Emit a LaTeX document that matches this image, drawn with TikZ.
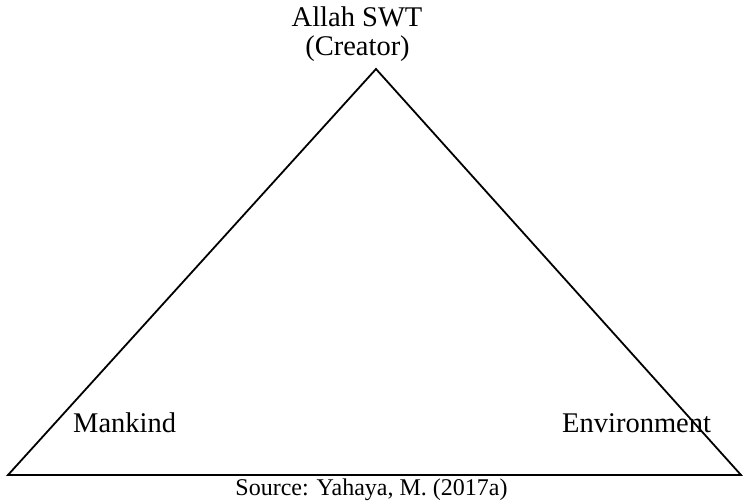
\documentclass[tikz,border=0pt]{standalone}
\usepackage{fontspec}
\setmainfont{Liberation Serif}
\begin{document}
\begin{tikzpicture}[x=1pt,y=-1pt,
  lbl/.style={inner sep=0pt,anchor=base,font=\fontsize{28.5}{30}\selectfont},
  src/.style={inner sep=0pt,anchor=base,font=\fontsize{24}{26}\selectfont},
  tri/.style={draw=black,line width=1.8pt,line join=miter}]
\useasboundingbox[fill=white] (0,0) rectangle (743,503);
\coordinate (apex) at (376,69);
\coordinate (bl) at (8,475);
\coordinate (br) at (741,475);
\draw[tri] (bl) -- (apex) -- (br) -- cycle;
\node[lbl] (allah) at (357,27) {Allah SWT};
\node[lbl] (creator) at (357.5,56) {(Creator)};
\node[lbl,anchor=base west] (mankind) at (73,432) {Mankind};
\node[lbl,anchor=base west] (env) at (562,432) {Environment};
\node[src] (source) at (371.5,495) {Source: Yahaya, M. (2017a)};
\end{tikzpicture}
\end{document}
